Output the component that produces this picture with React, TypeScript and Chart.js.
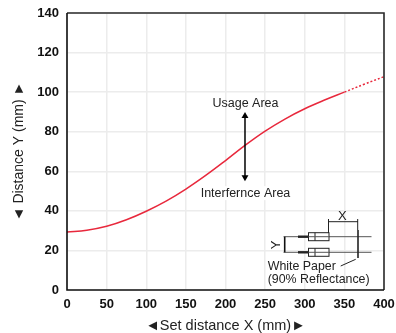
import React, { useEffect, useRef } from "react";
import { Chart, registerables } from "chart.js";

Chart.register(...registerables);

const solidX = [0, 25, 50, 75, 100, 125, 150, 175, 200, 225, 250, 275, 300, 325, 350];
const solidY = [29.3, 30.2, 32.2, 35.5, 39.8, 44.9, 51, 57.9, 65.4, 73.2, 80.3, 86.4, 91.6, 96, 100];
const dottedX = [350, 375, 400];
const dottedY = [100, 104, 107.8];
const arrowX = [224.6, 224.6];
const arrowY = [57, 88];
const usageLabel = "Usage Area";
const interferenceLabel = "Interfernce Area";
const xTitle = "◄Set distance X (mm)►";
const yTitle = "◄ Distance Y (mm) ►";
const paperLines = ["White Paper", "(90% Reflectance)"];

const FONT = '"Liberation Sans", Arial, sans-serif';

const toPoints = (xs: number[], ys: number[]) => xs.map((x, i) => ({ x, y: ys[i] }));

const decorations = {
  id: "decorations",
  afterDatasetsDraw(chart: any) {
    const { ctx, chartArea: a, scales } = chart;
    ctx.save();
    // frame
    ctx.strokeStyle = "#2b2b2b";
    ctx.lineWidth = 1.6;
    ctx.beginPath();
    ctx.moveTo(a.left, a.top);
    ctx.lineTo(a.right, a.top);
    ctx.lineTo(a.right, a.bottom);
    ctx.stroke();
    ctx.strokeStyle = "#111";
    ctx.beginPath();
    ctx.moveTo(a.left, a.top);
    ctx.lineTo(a.left, a.bottom);
    ctx.lineTo(a.right, a.bottom);
    ctx.stroke();

    // area labels
    const cx = scales.x.getPixelForValue(arrowX[0]) + 0.5;
    ctx.font = `12.5px ${FONT}`;
    ctx.textAlign = "center";
    ctx.textBaseline = "middle";
    ctx.fillStyle = "#fff";
    const w = ctx.measureText(interferenceLabel).width;
    ctx.fillRect(cx - w / 2 - 1, scales.y.getPixelForValue(52.5), w + 2, 14);
    ctx.fillStyle = "#222";
    ctx.fillText(usageLabel, cx, scales.y.getPixelForValue(94));
    ctx.fillText(interferenceLabel, cx, scales.y.getPixelForValue(52.5) + 7);

    // inset sensor drawing, placed from the plot's bottom-right corner
    const ox = a.right;
    const oy = a.bottom;
    const P = (dx: number, dy: number) => [ox + dx, oy + dy] as const;
    const line = (x1: number, y1: number, x2: number, y2: number, color = "#222", lw = 1) => {
      ctx.strokeStyle = color;
      ctx.lineWidth = lw;
      ctx.beginPath();
      ctx.moveTo(...P(x1, y1));
      ctx.lineTo(...P(x2, y2));
      ctx.stroke();
    };
    // beams
    line(-100.5, -53.3, -12.5, -53.3, "#555", 1);
    line(-100.5, -37.7, -12.5, -37.7, "#555", 1);
    // sensor bodies
    [-53.3, -37.7].forEach((cy) => {
      ctx.fillStyle = "#fff";
      ctx.fillRect(...P(-75.5, cy - 4), 20.5, 8);
      ctx.strokeStyle = "#222";
      ctx.lineWidth = 1;
      ctx.strokeRect(...P(-75.5, cy - 4), 20.5, 8);
      line(-86, cy, -75.5, cy, "#222", 2.4);
      line(-69, cy - 4, -69, cy + 4, "#222", 1);
      line(-75.5, cy, -55, cy, "#555", 1);
    });
    // white paper
    line(-26, -60, -26, -32, "#222", 1.6);
    // X dimension
    line(-55.5, -68.3, -26, -68.3, "#222", 1);
    line(-55.5, -71, -55.5, -57, "#222", 1);
    line(-26.3, -71, -26.3, -60, "#222", 1);
    // Y dimension
    line(-99.3, -53.3, -99.3, -37.7, "#111", 1.6);
    // leader
    line(-28.3, -30.7, -43.3, -24, "#222", 1);
    // letters
    ctx.fillStyle = "#222";
    ctx.font = `13px ${FONT}`;
    ctx.textAlign = "center";
    ctx.fillText("X", ox - 41.7, oy - 74);
    ctx.save();
    ctx.translate(ox - 107.3, oy - 45);
    ctx.rotate(-Math.PI / 2);
    ctx.fillText("Y", 0, 0);
    ctx.restore();
    // paper caption
    ctx.textAlign = "left";
    ctx.font = `12.4px ${FONT}`;
    ctx.fillText(paperLines[0], ox - 116.3, oy - 23.3);
    ctx.fillText(paperLines[1], ox - 116.3, oy - 10.7);
    ctx.restore();
  },
};

export default function App() {
  const ref = useRef<HTMLCanvasElement>(null);
  useEffect(() => {
    const chart = new Chart(ref.current as HTMLCanvasElement, {
      type: "scatter",
      data: {
        datasets: [
          {
            data: toPoints(solidX, solidY),
            showLine: true,
            borderColor: "#e8283c",
            borderWidth: 1.5,
            pointRadius: 0,
            tension: 0.4,
            order: 2,
          },
          {
            data: toPoints(dottedX, dottedY),
            showLine: true,
            borderColor: "#e8283c",
            borderWidth: 1.5,
            borderDash: [2, 2],
            pointRadius: 0,
            tension: 0.4,
            order: 2,
          },
          {
            data: toPoints(arrowX, arrowY),
            showLine: true,
            borderColor: "#000",
            borderWidth: 1.5,
            backgroundColor: "#000",
            pointBorderWidth: 0,
            pointStyle: "triangle",
            pointRadius: 4,
            rotation: [180, 0],
            order: 1,
          },
        ],
      },
      options: {
        animation: false,
        responsive: false,
        layout: { padding: { top: 13, right: 12, left: 0, bottom: 0 } },
        plugins: { legend: { display: false }, tooltip: { enabled: false } },
        scales: {
          x: {
            type: "linear",
            min: 0,
            max: 400,
            afterFit: (s: any) => {
              s.height = 43;
              s.paddingLeft = 0;
              s.paddingRight = 0;
            },
            grid: { color: "#ececec", lineWidth: 1.5, drawTicks: false },
            border: { display: false },
            ticks: {
              stepSize: 50,
              padding: 7,
              color: "#111",
              maxRotation: 0,
              font: { family: FONT, size: 13, weight: "bold" },
            },
            title: {
              display: true,
              text: xTitle,
              color: "#222",
              font: { family: FONT, size: 14.5 },
              padding: { top: 4, bottom: -2 },
            },
          },
          y: {
            min: 0,
            max: 140,
            afterFit: (s: any) => {
              s.width = 67;
              s.paddingTop = 0;
              s.paddingBottom = 0;
            },
            grid: { color: "#ececec", lineWidth: 1.5, drawTicks: false },
            border: { display: false },
            ticks: {
              stepSize: 20,
              padding: 8,
              color: "#111",
              font: { family: FONT, size: 13, weight: "bold" },
            },
            title: {
              display: true,
              text: yTitle,
              color: "#222",
              font: { family: FONT, size: 14 },
              padding: { top: 11, bottom: 0 },
            },
          },
        },
      },
      plugins: [decorations],
    } as any);
    return () => chart.destroy();
  }, []);
  return (
    <div style={{ position: "absolute", left: 0, top: 0, width: 396, height: 333, background: "#fff" }}>
      <canvas ref={ref} width={396} height={333} style={{ display: "block" }} />
    </div>
  );
}
